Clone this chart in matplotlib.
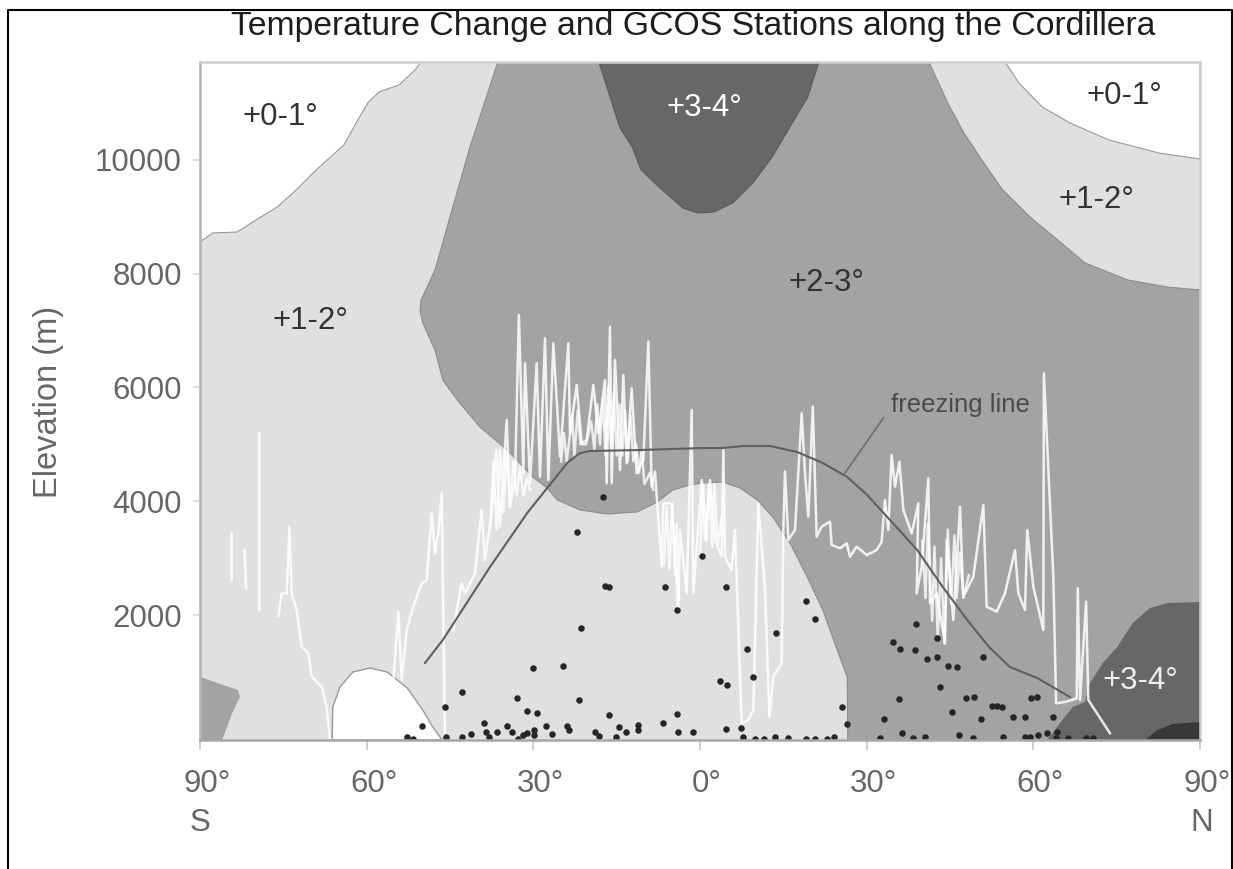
import numpy as np
import matplotlib
matplotlib.use('Agg')
import matplotlib.pyplot as plt
from matplotlib.lines import Line2D
from matplotlib.transforms import ScaledTranslation

plt.rcParams['font.family'] = ['Liberation Sans', 'DejaVu Sans']

TOP = 11716
BOT = -196

# temperature change regions, lat / elevation of the outlines
white_nw_lat = [-90, -87.7, -83.3, -80.5, -76.1, -72.7, -69.1, -64.1, -61.9, -59.8, -57.8, -54.2, -51.3, -50.2, -90]
white_nw_elev = [8554, 8712, 8729, 8905, 9169, 9467, 9819, 10258, 10644, 10996, 11189, 11312, 11576, TOP, TOP]

white_ne_lat = [54.9, 57.4, 61.6, 66.6, 73.6, 82.6, 90, 90]
white_ne_elev = [TOP, 11347, 10926, 10644, 10346, 10117, 10012, TOP]

white_bump_lat = [-66.2, -66.1, -64.8, -62.5, -59.4, -56.3, -52.7, -49.9, -48.1, -46.4]
white_bump_elev = [BOT, 384, 735, 998, 1069, 998, 717, 331, 32, BOT]

mid_lat = [-36.4, -41.4, -44.8, -47.7, -50.2, -50.4, -49.9, -47.7, -46.3, -43.7, -39.6, -34.7, -30.1, -27.5,
           -25.7, -21.6, -16.7, -11.3, -7.7, -4.9, -1.8, 0.5, 4.1, 7.2, 10.3, 13.1, 16.2, 19.3, 22.1, 24.7,
           26.5, 26.6, 90, 90, 84.1, 77, 69.3, 64.4, 59.4, 54.5, 51.1, 47.5, 44.6, 41.2]
mid_elev = [TOP, 10223, 9063, 8062, 7535, 7359, 7130, 6656, 6129, 5778, 5303, 4899, 4425, 4231,
            4021, 3845, 3775, 3810, 3985, 4196, 4284, 4319, 4337, 4231, 4021, 3722, 3265, 2668, 2088, 1385,
            911, BOT, BOT, 7710, 7763, 7886, 8185, 8589, 8993, 9467, 9942, 10469, 10996, TOP]

mid_sw_lat = [-90, -83.2, -82.8, -84.2, -86, -90]
mid_sw_elev = [911, 682, 559, 278, BOT, BOT]

dark_top_lat = [21.4, 19.4, 16.6, 13, 9.5, 5.9, 2.5, -0.4, -3.1, -7.4, -10.6, -12.2, -14.4, -18.2]
dark_top_elev = [TOP, 11101, 10644, 10047, 9590, 9239, 9081, 9063, 9151, 9520, 9819, 10223, 10557, TOP]

dark_se_lat = [90, 84.1, 81, 77.9, 75.1, 72.5, 70.2, 69.3, 67.1, 64.8, 63.5, 62.5, 90]
dark_se_elev = [2228, 2211, 2123, 1859, 1438, 1157, 805, 471, 384, 102, -73, BOT, BOT]

darkest_lat = [80.1, 82.3, 85.1, 90, 90]
darkest_elev = [BOT, -21, 85, 120, BOT]

# freezing line and its leader
freeze_lat = [-49.5, -46.3, -37.8, -31.1, -27.5, -23.9, -21.6, -19.8, -10.8, 0.5, 4.1, 7.7, 12.6, 17.5, 22.1,
              26.5, 30.1, 34.2, 39.1, 43.7, 48.1, 52.2, 55.8, 60.7, 66.6]
freeze_elev = [1157, 1561, 2843, 3792, 4231, 4671, 4846, 4881, 4899, 4934, 4934, 4969, 4969, 4864, 4671,
               4425, 4108, 3669, 3142, 2492, 1912, 1420, 1086, 893, 559]
leader_lat = [26.1, 33]
leader_elev = [4495, 5461]

# cordillera crest, nan breaks the pieces
crest_lat = [-84.3, -84.3, np.nan, -82.0, -81.7, np.nan, -79.3, -79.3, np.nan,
             -75.9, -75.3, -74.4, -73.9, -73.5, -72.6, -71.7, -70.5, -69.9, -68.1, -67.2, -66.6, np.nan,
             -55.2, -54.3, -53.7, -52.8, -51.6, -50.1, -49.2, -48.3, -47.7, -47.1, -46.5, -45.9, np.nan,
             -44.4, -42.9, -42.3, -40.5, -39.3, -38.7, -37.5, -36.7, -36, -34.8, -34.2,
             -33.3, -32.6, -31.8, -31.5, -30.6, -29.4, -28.8, -27.9, -27.3, -26.4, -25.2, -23.7, -23.4, -22.2,
             -21.3, -20.4, -19.2, -18.3, -17.1, -16.8, -16.2, -15.9, -15.3, -14.4, -13.8, -13.2, -12.3, -11.4,
             -10.2, -9.3, -8.7, -8.1, -6.9, -6.6, -5.1, -3.9, -3.6, -2.4, -1.5, -1.2, 0.3, 0.9, 1.8, 2.7, 3.9,
             4.2, 4.5, 5.7, 6.3, 7.5, 8.7, 9.6, 10.5, 11.7, 12.5, 13.2, 14.7, 15, 15.3, 15.9, 17.1, 18.3, 18.9,
             19.5, 20.3, 21, 21.9, 23.4, 23.7, 25.2, 26.4, 27, 28.2, 30, 31.8, 32.7, 33.3, 33.9, 34.5, 35.1,
             35.9, 36.6, 38.1, 39.3, 39, 39.9, 41.1, 41.4, 42.6, 44.1, 44.4, 45.6, 46.8, 47.4, 49.2, 51, 51.6,
             53.4, 54.9, 56.7, 57.3, 58.5, 58.9, 60, 61.8, 61.9, 63.6, 64.1, 66, 67.8, 68, 68.4, 69.5, 69.9, 73.8]
crest_elev = [3435, 2615, np.nan, 3142, 2469, np.nan, 5192, 2088, np.nan,
              1971, 2381, 2381, 3552, 2381, 2088, 1444, 1327, 917, 741, 390, BOT, np.nan,
              858, 2059, 858, 1737, 2147, 2557, 2615, 3787, 3084, 3435, 4138, BOT, np.nan,
              1737, 2557, 2381, 2732, 3845, 2966, 3786, 4899, 3552, 5427, 3904,
              4372, 7271, 4489, 6422, 4314, 6422, 4431, 6861, 4372, 6774, 4782, 6774, 5192, 6042,
              5017, 5075, 6042, 5192, 6129, 4314, 7066, 4314, 6481, 4548, 6217, 4665, 5983, 4489,
              4724, 6803, 4255, 4519, 2849, 3962, 3962, 2088, 3494, 2381, 5602, 2381, 4372, 3318, 4372, 3318, 3025,
              4899, 3025, 2791, 3494, 97, 155, 331, 3962, 2439, 214, 917, 1151, 3494, 4519, 3318, 3494, 5544, 4489,
              3728, 5661, 3376, 3552, 3640, 3230, 3172, 3259, 3025, 3201, 3054, 3142, 3289, 4021, 3494, 4811, 4255,
              4694, 3845, 3435, 3962, 2381, 2849, 4402, 2205, 2381, 1503, 3318, 1912, 3904, 2322, 2674, 3933, 2147,
              2059, 2381, 3142, 2381, 2088, 3494, 2498, 1737, 6246, 2674, 448, 478, 536, 2469, 507, 2235, 507, -79]

# the tighter, lower peaks of the crest where it packs into a white band
band_lat = [-37.8, -37.2, -36.6, -36, -35.4, -34.8, -34.2, -33.6, -33, -32.4, -31.8, -31.2, -30.6, np.nan,
            -25, -24.5, -24, -23, -22.6, -22, -21.5, -20.5, -19.6, -19, -18.5, -18, -17.5, -17, -16.5, -16,
            -15.5, -15, -14.5, -14, -13.5, -13, -12.5, -12, -11.5, -11, -10.5, -10, -9, -8.4, np.nan,
            -6.5, -6, -5.5, -5, -4.5, -4.2, -3.8, np.nan,
            0, 0.5, 1.2, 1.6, 2.2, 2.6, 3.2, 4, np.nan,
            40, 40.6, 41, 41.8, 42.2, 42.8, 43.4, 44, 44.6, 45.2, 45.8, 46.2, 46.8, 47.4, 48.4]
band_elev = [3500, 4700, 3500, 4900, 3800, 4850, 3900, 4700, 4100, 4600, 4100, 4400, 4200, np.nan,
             4700, 5200, 4700, 5500, 4800, 5600, 5000, 5000, 5400, 4900, 5700, 5000, 5800, 4800, 6000, 4900,
             5900, 4800, 5700, 4800, 5600, 4700, 5500, 4700, 5000, 4500, 4900, 4300, 4500, 4200, np.nan,
             2900, 3900, 2800, 3950, 2700, 3600, 2300, np.nan,
             3000, 4300, 3300, 4300, 3200, 4300, 3200, 3800, np.nan,
             3300, 2300, 3600, 1900, 3200, 1600, 3000, 1500, 3500, 2200, 3400, 2300, 3100, 2300, 2700]

# GCOS stations
station_lat = [-17.4, -22.2, 0.3, -17.1, -16.3, -6.3, -4.2, -21.4, -30.1, -24.7, -42.9, -32.9, -21.8, -45.9,
               -31.1, -29.4, -16.3, -4.2, -50.1, -38.9, -6.6, -52.8, -51.6, -45.7, -42.9, -41.3, -38.5, -38,
               -36.6, -34.8, -33.9, -32.7, -31.8, -31.1, -29.9, -29.9, -27.7, -26.7, -24, -23.5, -18.9, -18.1,
               -15.1, -14.5, -13.3, -11.1, -11.1, -3.9, -1.2,
               4.6, 19.1, 20.7, 13.7, 8.5, 9.6, 3.6, 4.8, 4.6, 7.4, 7.8, 9.9, 11.5, 13.5, 15.9, 19, 20.7, 22.8,
               24.1, 25.5, 26.5, 32.4, 33.2, 35.8, 36.4, 38.3, 40.5, 38.8, 42.6, 34.7, 36, 38.7, 40.8, 42.6,
               44.7, 46.2, 50.9, 43.2, 47.8, 49.4, 45.3, 50.5, 52.5, 54.3, 53.4, 56.4, 58.5, 59.5, 60.6, 63.6,
               46.7, 49.1, 54.6, 58.5, 59.4, 60.9, 62.5, 64.2, 64.1, 66.3, 69.4, 70.8]
station_elev = [4079, 3453, 3043, 2510, 2498, 2498, 2088, 1766, 1063, 1110, 653, 548, 507, 378,
                319, 284, 243, 255, 56, 97, 108, -138, -179, -138, -138, -97, -61, -138,
                -50, 56, -50, -179, -108, -79, -21, -108, 56, -97, 56, -21, -50, -126,
                -138, 38, -50, 67, -21, -61, -61,
                2498, 2246, 1930, 1690, 1403, 905, 840, 770, -3, 21, -138, -185, -185, -149, -167, -185, -185, -185,
                -149, 378, 79, -167, 173, 524, -79, -167, -149, 1836, 1596, 1520, 1408, 1385, 1227, 1256,
                1104, 1081, 1268, 741, 548, 565, 302, 173, 401, 378, 401, 214, 214, 548, 565, 214,
                -114, -167, -149, -149, -149, -108, -67, -50, -167, -167, -167, -167]

xtick_vals = [-90, -60, -30, 0, 30, 60, 90]
xtick_labels = ['90°', '60°', '30°', '0°', '30°', '60°', '90°']
ytick_vals = [2000, 4000, 6000, 8000, 10000]

fig = plt.figure(figsize=(12.33, 8.69), dpi=100)
ax = fig.add_axes([200 / 1233, 1 - 740 / 869, 1000 / 1233, 678 / 869])
ax.set_facecolor('#e0e0e0')

# regions, back to front
edge = '#999999'
ax.fill(mid_lat, mid_elev, fc='#a3a3a3', ec='#8c8c8c', lw=0.8, joinstyle='round', zorder=1)
ax.fill(mid_sw_lat, mid_sw_elev, fc='#a3a3a3', ec='none', zorder=1)
ax.fill(white_nw_lat, white_nw_elev, fc='white', ec=edge, lw=0.8, joinstyle='round', zorder=1)
ax.fill(white_ne_lat, white_ne_elev, fc='white', ec=edge, lw=0.8, joinstyle='round', zorder=1)
ax.fill(white_bump_lat, white_bump_elev, fc='white', ec=edge, lw=1, joinstyle='round', zorder=1)
ax.fill(dark_top_lat, dark_top_elev, fc='#676767', ec='#5a5a5a', lw=0.8, joinstyle='round', zorder=2)
ax.fill(dark_se_lat, dark_se_elev, fc='#676767', ec='none', zorder=2)
ax.fill(darkest_lat, darkest_elev, fc='#383838', ec='none', zorder=3)

ax.plot(crest_lat, crest_elev, color='white', lw=1.8, alpha=0.85, zorder=4)
ax.plot(band_lat, band_elev, color='white', lw=1.8, alpha=0.8, zorder=4)
ax.plot(freeze_lat, freeze_elev, color='#5f5f5f', lw=1.5, zorder=5)
ax.plot(leader_lat, leader_elev, color='#6e6e6e', lw=1.2, zorder=5)
ax.scatter(station_lat, station_elev, s=22, color='#262626', linewidths=0, zorder=6)

# region labels
ax.text(-75.5, 10750, '+0-1°', fontsize=22.5, color='#333333', ha='center', va='center', zorder=7)
ax.text(-70.2, 7170, '+1-2°', fontsize=22.5, color='#333333', ha='center', va='center', zorder=7)
ax.text(0.7, 10900, '+3-4°', fontsize=22.5, color='white', ha='center', va='center', zorder=7)
ax.text(76.3, 11110, '+0-1°', fontsize=22.5, color='#333333', ha='center', va='center', zorder=7)
ax.text(71.3, 9290, '+1-2°', fontsize=22.5, color='#333333', ha='center', va='center', zorder=7)
ax.text(22.7, 7830, '+2-3°', fontsize=22.5, color='#333333', ha='center', va='center', zorder=7)
ax.text(79.3, 840, '+3-4°', fontsize=22.5, color='#eeeeee', ha='center', va='center', zorder=7)
ax.text(46.8, 5690, 'freezing line', fontsize=18.5, color='#4a4a4a', ha='center', va='center', zorder=7)

ax.set_xlim(-90, 90)
ax.set_ylim(BOT, TOP)
ax.set_xticks(xtick_vals)
ax.set_xticklabels(xtick_labels, fontsize=22.5, color='#666666', va='top')
ax.set_yticks(ytick_vals)
ax.set_yticklabels([str(v) for v in ytick_vals], fontsize=22.5, color='#666666')
ax.tick_params(axis='x', length=7, width=1.3, color='#cccccc', pad=14)
ax.tick_params(axis='y', length=5, width=1.3, color='#dddddd', pad=8)

# the degree sign hangs to the right of the tick
shift = ScaledTranslation(5 / 72, 0, fig.dpi_scale_trans)
for lab in ax.get_xticklabels():
    lab.set_transform(lab.get_transform() + shift)

ax.spines['left'].set_color('#b4b4b4')
ax.spines['bottom'].set_color('#a8a8a8')
ax.spines['top'].set_color('#cfcfcf')
ax.spines['right'].set_color('#cfcfcf')
for s in ax.spines.values():
    s.set_linewidth(1.8)
    s.set_zorder(8)

fig.text(200 / 1233, 1 - 823 / 869, 'S', fontsize=22.5, color='#666666', ha='center', va='center')
fig.text(1202 / 1233, 1 - 823 / 869, 'N', fontsize=22.5, color='#666666', ha='center', va='center')

fig.text(49 / 1233, 1 - 402 / 869, 'Elevation (m)', rotation=90, fontsize=23.5, color='#666666',
         ha='center', va='center')
fig.text(693 / 1233, 1 - 27 / 869, 'Temperature Change and GCOS Stations along the Cordillera', fontsize=24.3,
         color='#1e1e1e', ha='center', va='center')

# black frame round the figure, open at the bottom
frame_x = [8 / 1233, 8 / 1233, 1232 / 1233, 1232 / 1233]
frame_y = [0, 1 - 10 / 869, 1 - 10 / 869, 0]
fig.add_artist(Line2D(frame_x, frame_y, color='black', lw=1.5, transform=fig.transFigure))

fig.savefig('out.png', dpi=100)
